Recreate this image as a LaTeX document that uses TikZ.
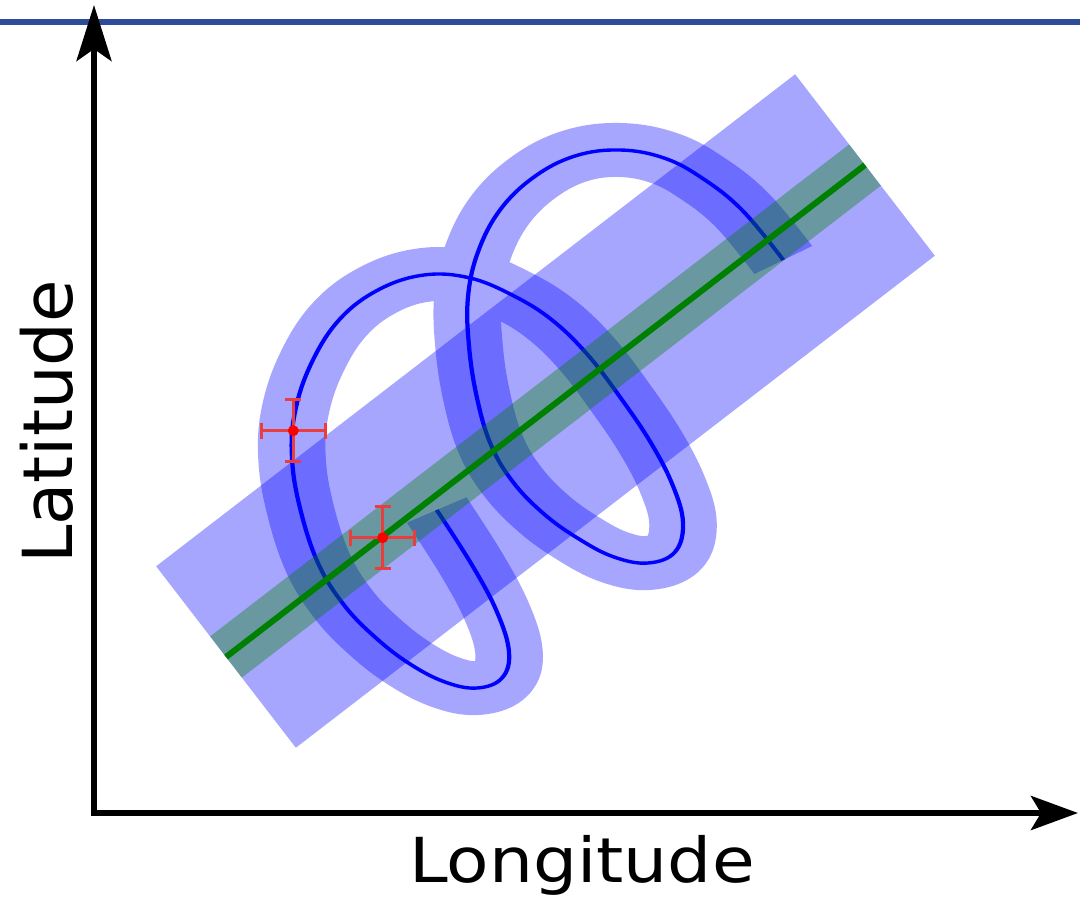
\documentclass[tikz,border=0pt]{standalone}
\usepackage{fontspec}
\newfontfamily\lblfont{DejaVu Sans}
\usetikzlibrary{arrows.meta}
\definecolor{topline}{RGB}{46,76,156}
\definecolor{errred}{RGB}{232,62,62}
\definecolor{trackgreen}{RGB}{0,128,0}
\begin{document}
\begin{tikzpicture}[x=1pt,y=-1pt,
  wideband/.style={draw=blue, draw opacity=0.35, line cap=butt, line width=229pt},
  curveband/.style={draw=blue, draw opacity=0.35, line cap=butt, line width=54pt, line join=round},
  curveline/.style={draw=blue, line width=3.4pt, line cap=butt},
  greenband/.style={draw=trackgreen, draw opacity=0.37, line cap=butt, line width=52pt},
  greenline/.style={draw=trackgreen, line width=6pt, line cap=butt},
  errbar/.style={draw=errred, line width=3pt},
  lbl/.style={inner sep=0pt, anchor=base}]
\useasboundingbox (0,0) rectangle (1080,903);
% top rule
\coordinate (tl) at (0,22);
\coordinate (tr) at (1080,22);
\draw[topline, line width=6pt] (tl) -- (tr);
% track
\coordinate (A) at (226,657);
\coordinate (B) at (865,165);
\draw[wideband] (A) -- (B);
\begin{scope}[transform canvas={xscale=1.25}, xscale=0.8]
\draw[curveband, postaction={draw=blue, draw opacity=1, line width=3.4pt}]
 plot[smooth, tension=0.65] coordinates {
(436.7,510) (472,565) (497,612) (509,652) (502,678) (477,688) (445,682)
(410,664) (376,638) (344,605) (318,563) (300,508) (292,458) (295,412)
(311,364) (339,320) (378,290) (424,275) (470,278) (514,296) (552,320)
(587,354) (620,397) (651,443) (673,486) (683,523) (675,552) (648,563)
(614,557) (579,539) (544,514) (513,482) (491,445) (477,398) (469,346)
(468,297) (478,252) (500,210) (534,177) (575,156) (620,150) (664,158)
(702,178) (742,210) (783.3,260)};
\end{scope}
\draw[greenband] (A) -- (B);
\draw[greenline] (A) -- (B);
% error bars
\coordinate (p1) at (293.3,430.7);
\coordinate (p2) at (382.7,537.7);
\foreach \p in {p1,p2}{
  \draw[errbar] (\p) +(-32,0) -- +(32,0);
  \draw[errbar] (\p) +(0,-31) -- +(0,31);
  \draw[errbar] (\p) +(-32,-8) -- +(-32,8);
  \draw[errbar] (\p) +(32,-8) -- +(32,8);
  \draw[errbar] (\p) +(-8,-31) -- +(8,-31);
  \draw[errbar] (\p) +(-8,31) -- +(8,31);
  \fill[red] (\p) circle[radius=5.5pt];
}
% axes
\coordinate (O) at (94,813);
\coordinate (ytip) at (94,5);
\coordinate (xtip) at (1078,813);
\draw[line width=6pt, {Stealth[length=56pt,width=35pt,inset=12pt]}-{Stealth[length=47pt,width=34pt,inset=10pt]}] (ytip) -- (O) -- (xtip);
% labels
\node[lbl, font={\lblfont\fontsize{62pt}{70pt}\selectfont}] (lon) at (582,882) {\scalebox{1.12}[1]{Longitude}};
\node[lbl, rotate=90, font={\lblfont\fontsize{69pt}{78pt}\selectfont}] (lat) at (72,421.8) {Latitude};
\end{tikzpicture}
\end{document}
